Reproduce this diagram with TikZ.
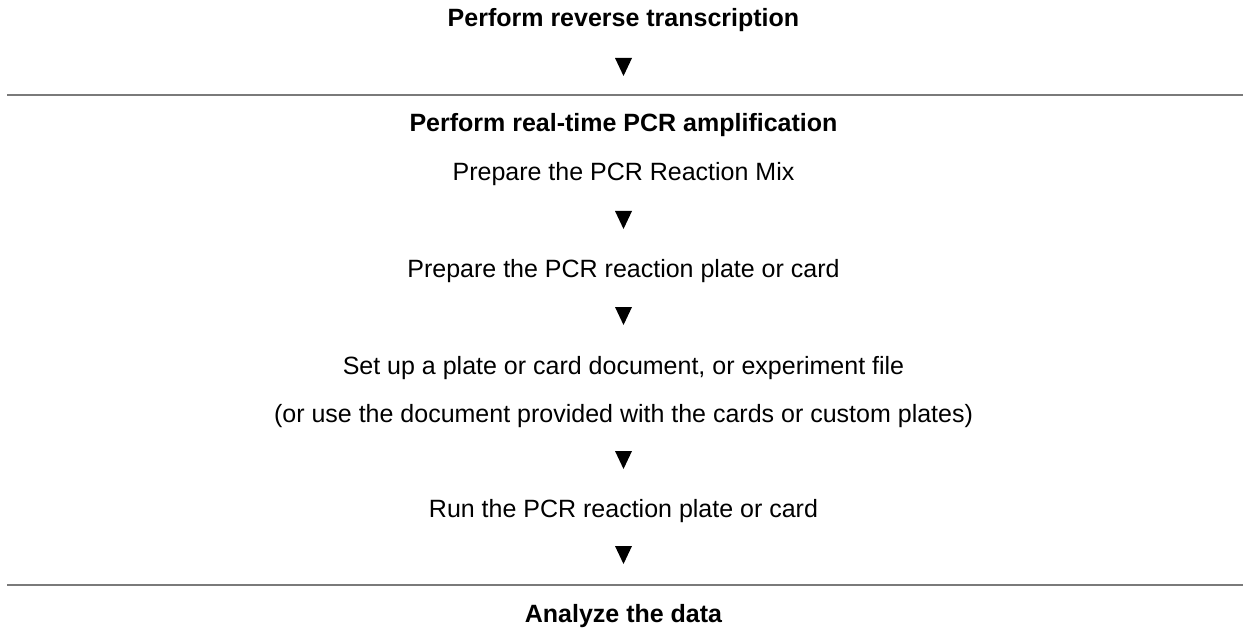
\documentclass[tikz,border=0pt]{standalone}
\usepackage{fontspec}
\setmainfont{Liberation Sans}
\begin{document}
\begin{tikzpicture}[x=1pt,y=-1pt,
  txt/.style={anchor=base,inner sep=0pt,font=\fontsize{25}{30}\selectfont},
  head/.style={txt,font=\fontsize{25}{30}\selectfont\bfseries},
  rule/.style={draw=black!52,line width=2pt},
  tri/.style={fill=black}]
\useasboundingbox (0,0) rectangle (1247,631);
\def\cx{623.5}
\node[head] (rt) at (\cx,27) {Perform reverse transcription};
\coordinate (t1) at (\cx,67);
\coordinate (l1a) at (7,95);
\coordinate (l1b) at (1243,95);
\node[head] (pcr) at (\cx,132) {Perform real-time PCR amplification};
\node[txt] (mix) at (\cx,181) {Prepare the PCR Reaction Mix};
\coordinate (t2) at (\cx,220);
\node[txt] (plate) at (\cx,277) {Prepare the PCR reaction plate or card};
\coordinate (t3) at (\cx,316);
\node[txt] (setup) at (\cx,374) {Set up a plate or card document, or experiment file};
\node[txt] (oruse) at (\cx,422) {(or use the document provided with the cards or custom plates)};
\coordinate (t4) at (\cx,460);
\node[txt] (run) at (\cx,517) {Run the PCR reaction plate or card};
\coordinate (t5) at (\cx,555);
\coordinate (l2a) at (7,585);
\coordinate (l2b) at (1243,585);
\node[head] (an) at (\cx,622) {Analyze the data};
\draw[rule] (l1a) -- (l1b);
\draw[rule] (l2a) -- (l2b);
\foreach \t in {t1,t2,t3,t4,t5}{
  \fill[tri] ([shift={(-8.5,-9)}]\t) -- ([shift={(8.5,-9)}]\t) -- ([shift={(0,9)}]\t) -- cycle;
}
\end{tikzpicture}
\end{document}
